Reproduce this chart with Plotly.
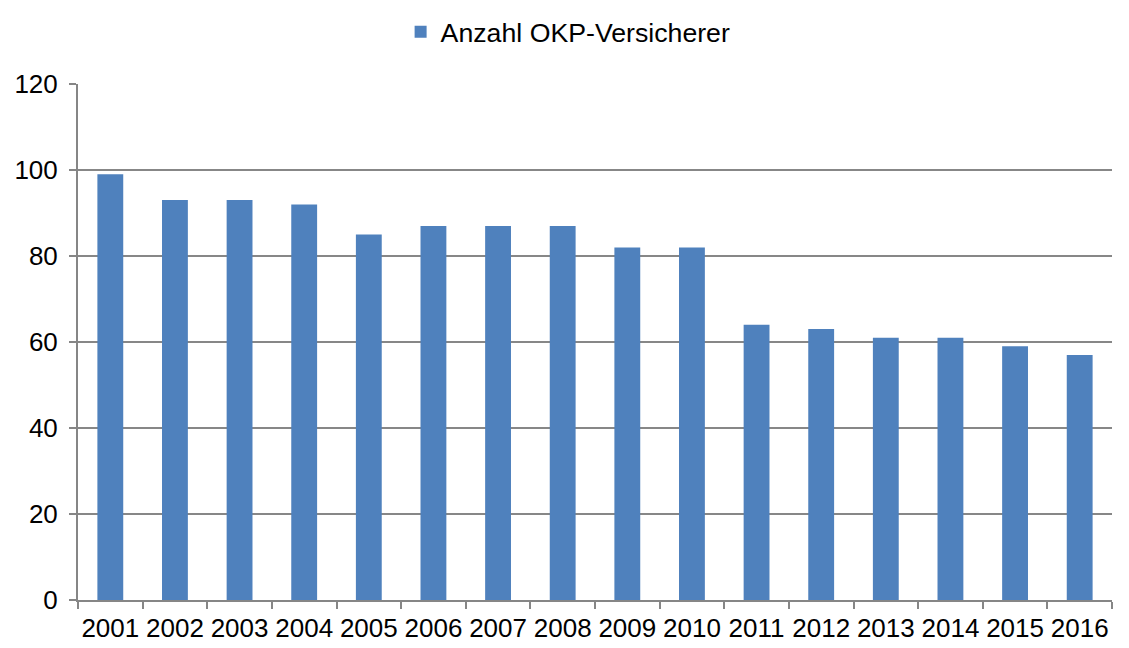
import plotly.graph_objects as go

years = ["2001", "2002", "2003", "2004", "2005", "2006", "2007", "2008",
         "2009", "2010", "2011", "2012", "2013", "2014", "2015", "2016"]
insurers = [99, 93, 93, 92, 85, 87, 87, 87, 82, 82, 64, 63, 61, 61, 59, 57]
series_name = "Anzahl OKP-Versicherer"

fig = go.Figure()
fig.add_trace(go.Bar(
    x=years, y=insurers, name=series_name,
    marker=dict(color="#4F81BD", line=dict(width=0)),
    showlegend=True,
))

font_family = "Liberation Sans, Arial, sans-serif"
fig.update_layout(
    width=1129, height=648,
    margin=dict(l=78, r=17, t=84, b=48, autoexpand=False),
    paper_bgcolor="white", plot_bgcolor="white",
    bargap=0.6,
    font=dict(family=font_family, size=26, color="#000000"),
    showlegend=True,
    legend=dict(orientation="h", x=0.474, xanchor="center",
                yref="container", y=1 - 32 / 648, yanchor="middle",
                font=dict(size=26.7, family=font_family)),
    xaxis=dict(
        type="category", showgrid=False, showline=True, linecolor="#868686", linewidth=2,
        ticks="outside", tickson="boundaries", ticklen=7, tickwidth=2, tickcolor="#868686",
        tickfont=dict(size=26), tickangle=0, ticklabelstandoff=4,
    ),
    yaxis=dict(
        range=[0, 120], dtick=20, showgrid=True, gridcolor="#878787", gridwidth=2,
        showline=True, linecolor="#868686", linewidth=2, zeroline=False,
        ticks="outside", ticklen=7, tickwidth=2, tickcolor="#868686",
        tickfont=dict(size=26), ticklabelstandoff=6,
    ),
)

fig.write_html("out.html")
